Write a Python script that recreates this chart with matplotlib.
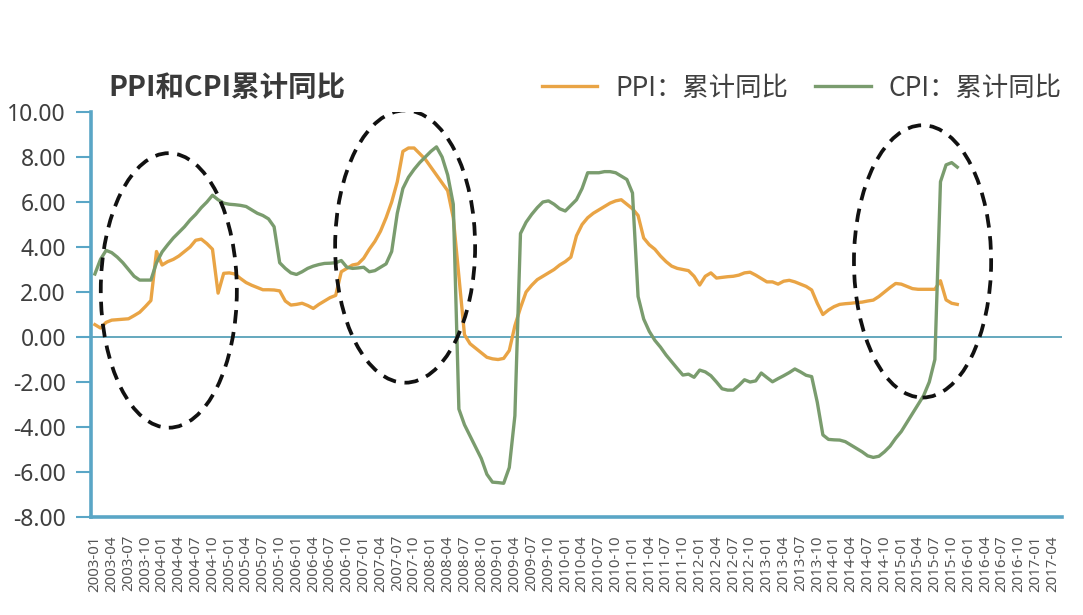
import matplotlib
matplotlib.use("Agg")
import matplotlib.pyplot as plt
from matplotlib.patches import Ellipse
import numpy as np

plt.rcParams['font.family'] = ['Noto Sans CJK SC', 'DejaVu Sans']

# monthly categories 2003-01 .. 2017-05
months = [f"{y}-{m:02d}" for y in range(2003, 2018) for m in range(1, 13)][:173]
tick_labels = months[::3]

# PPI cumulative yoy, 2003-01 .. 2015-11
ppi = [0.55, 0.40, 0.65, 0.75, 0.77, 0.79, 0.81, 0.95, 1.10, 1.35,
       1.62, 3.80, 3.20, 3.35, 3.45, 3.60, 3.80, 4.00, 4.30, 4.35,
       4.15, 3.90, 1.95, 2.83, 2.85, 2.80, 2.60, 2.42, 2.30, 2.20,
       2.10, 2.10, 2.09, 2.05, 1.60, 1.42, 1.45, 1.50, 1.40, 1.27,
       1.45, 1.60, 1.75, 1.85, 2.90, 3.05, 3.20, 3.25, 3.50, 3.90,
       4.25, 4.70, 5.30, 6.00, 6.90, 8.25, 8.40, 8.40, 8.15, 7.90,
       7.55, 7.20, 6.85, 6.50, 5.30, 2.70, 0.10, -0.30, -0.50, -0.70,
       -0.90, -0.97, -1.00, -0.95, -0.60, 0.50, 1.30, 2.00, 2.30, 2.55,
       2.70, 2.85, 3.00, 3.20, 3.35, 3.55, 4.50, 5.00, 5.30, 5.50,
       5.65, 5.80, 5.95, 6.05, 6.10, 5.90, 5.70, 5.40, 4.40, 4.10,
       3.90, 3.60, 3.35, 3.15, 3.05, 3.00, 2.95, 2.70, 2.31, 2.70,
       2.85, 2.62, 2.65, 2.68, 2.70, 2.75, 2.85, 2.88, 2.75, 2.60,
       2.45, 2.45, 2.35, 2.48, 2.52, 2.45, 2.35, 2.25, 2.09, 1.50,
       1.00, 1.20, 1.35, 1.45, 1.48, 1.50, 1.53, 1.55, 1.60, 1.64,
       1.80, 2.00, 2.20, 2.38, 2.35, 2.25, 2.15, 2.12, 2.12, 2.12,
       2.12, 2.50, 1.65, 1.50, 1.45]

# CPI cumulative yoy, 2003-01 .. 2015-11
cpi = [2.80, 3.45, 3.85, 3.75, 3.55, 3.30, 3.00, 2.70, 2.53, 2.53,
       2.53, 3.30, 3.78, 4.10, 4.40, 4.65, 4.90, 5.20, 5.45, 5.75,
       6.00, 6.30, 6.10, 5.95, 5.90, 5.88, 5.85, 5.80, 5.65, 5.50,
       5.40, 5.25, 4.90, 3.30, 3.05, 2.85, 2.78, 2.90, 3.05, 3.15,
       3.22, 3.27, 3.28, 3.30, 3.40, 3.10, 3.05, 3.07, 3.10, 2.90,
       2.95, 3.10, 3.25, 3.80, 5.50, 6.60, 7.10, 7.45, 7.75, 8.00,
       8.25, 8.45, 8.00, 7.20, 5.90, -3.20, -3.90, -4.40, -4.90, -5.40,
       -6.10, -6.45, -6.47, -6.50, -5.80, -3.50, 4.60, 5.10, 5.45, 5.75,
       6.00, 6.05, 5.90, 5.70, 5.60, 5.85, 6.10, 6.60, 7.30, 7.30,
       7.30, 7.35, 7.35, 7.30, 7.15, 7.00, 6.40, 1.80, 0.80, 0.25,
       -0.15, -0.45, -0.80, -1.10, -1.40, -1.69, -1.65, -1.79, -1.47, -1.55,
       -1.72, -2.00, -2.30, -2.36, -2.36, -2.15, -1.90, -2.00, -1.95, -1.60,
       -1.80, -1.99, -1.85, -1.72, -1.58, -1.42, -1.55, -1.70, -1.76, -2.90,
       -4.35, -4.55, -4.57, -4.58, -4.65, -4.80, -4.95, -5.10, -5.28, -5.35,
       -5.30, -5.10, -4.85, -4.50, -4.20, -3.80, -3.40, -3.00, -2.60, -2.00,
       -1.00, 6.90, 7.65, 7.75, 7.55]

ppi_color = '#E9A445'
cpi_color = '#7A9C6E'
axis_color = '#5AA6C6'

fig = plt.figure(figsize=(10.83, 6.15), dpi=100)
ax = fig.add_axes([0.084, 0.1593, 0.8966, 0.6586])

x = np.arange(len(ppi))
ax.plot(x, ppi, color=ppi_color, lw=2.4, label='PPI：累计同比', solid_joinstyle='round')
ax.plot(x, cpi, color=cpi_color, lw=2.4, label='CPI：累计同比', solid_joinstyle='round')

ax.axhline(0, color='#4A9AB3', lw=1.2, zorder=1)

# dashed highlight ellipses (month index, value, width, height)
for cx, cy, w, h in [(13.2, 2.07, 24.3, 12.2), (55.4, 4.02, 25.0, 12.1), (147.8, 3.36, 24.5, 12.1)]:
    ax.add_patch(Ellipse((cx, cy), w, h, fill=False, ec='#111111', lw=2.7,
                         ls=(0, (3.6, 2.3)), zorder=4))

ax.set_xlim(-0.7, 172.7)
ax.set_ylim(-8, 10)
ax.set_yticks(np.arange(-8, 10.1, 2))
ax.set_yticklabels([f"{v:.2f}" for v in np.arange(-8, 10.1, 2)])
ax.set_xticks(np.arange(0, 173, 3))
ax.set_xticklabels(tick_labels, rotation=90, fontsize=10.8, color='#555555', family='Noto Sans')

for s in ['top', 'right']:
    ax.spines[s].set_visible(False)
for s in ['left', 'bottom']:
    ax.spines[s].set_color(axis_color)
    ax.spines[s].set_linewidth(2.6)
ax.tick_params(axis='y', length=11, width=1.5, color=axis_color, pad=7,
               labelsize=16.5, labelcolor='#3F3F3F')
ax.tick_params(axis='x', length=0, pad=13)
for t in ax.get_yticklabels():
    t.set_family('Noto Sans')

fig.text(108 / 1083, 1 - 88 / 615, 'PPI和CPI累计同比', fontsize=20.5, fontweight='bold',
         color='#3A3A3A', va='center', ha='left')

fig.legend(loc='center right', bbox_to_anchor=(1062 / 1083, 1 - 88 / 615), ncol=2,
           frameon=False, fontsize=19, handlelength=2.1, handletextpad=0.7,
           columnspacing=1.0, borderpad=0, borderaxespad=0, labelcolor='#404040')

fig.savefig('out.png', dpi=100)
